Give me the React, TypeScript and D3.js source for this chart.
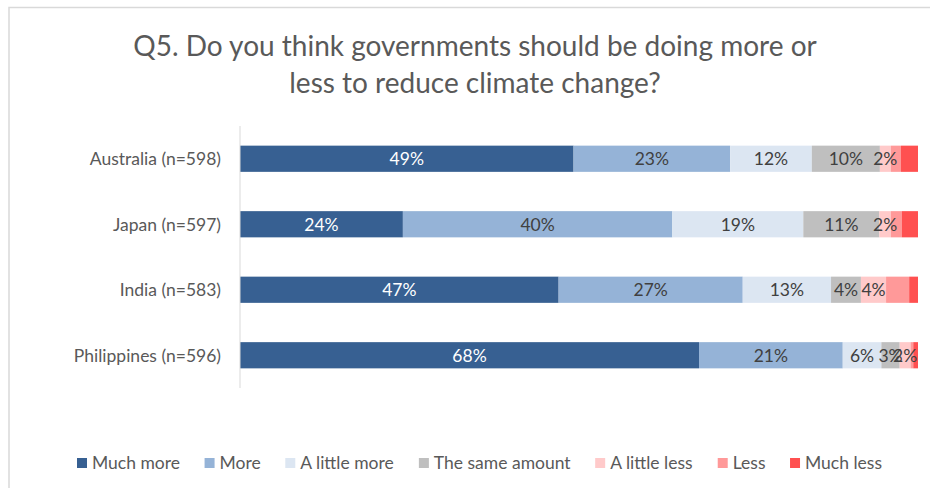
import React, { useMemo } from "react";
import * as d3 from "d3";

const countries = ["Australia (n=598)", "Japan (n=597)", "India (n=583)", "Philippines (n=596)"];
const seriesNames = ["Much more", "More", "A little more", "The same amount", "A little less", "Less", "Much less"];
const seriesColors = ["#376092", "#95b3d7", "#dce6f2", "#bfbfbf", "#ffcaca", "#ff9999", "#ff5050"];
const labelColors = ["#ffffff", "#404040", "#404040", "#404040", "#404040", "#404040", "#404040"];
// percentage per country, per series (same order as seriesNames)
const australia = [49, 23, 12, 10, 1.6, 1.5, 2.5];
const japan = [24, 39.7, 19.3, 11.2, 1.7, 1.6, 2.4];
const india = [46.9, 27.1, 13, 4.4, 3.7, 3.4, 1.3];
const philippines = [67.7, 21.2, 5.7, 2.7, 1.6, 0.4, 0.7];
const values = [australia, japan, india, philippines];
// which segments carry a data label
const showLabel = [true, true, true, true, true, false, false];

const FONT = "Lato, 'Open Sans', sans-serif";

function textWidth(t: string, size: number) {
  if (typeof document === "undefined") return t.length * size * 0.5;
  const c = document.createElement("canvas").getContext("2d")!;
  c.font = `${size}px ${FONT}`;
  return c.measureText(t).width;
}

export default function App() {
  const W = 930, H = 488;
  const x = d3.scaleLinear().domain([0, 100]).range([240, 918]);
  const y = d3.scaleBand().domain(countries).range([126, 388]).paddingInner(0.6).paddingOuter(0.3);

  const rows = values.map((vals, i) => {
    const total = d3.sum(vals);
    const norm = vals.map((v) => (v / total) * 100);
    const ends = d3.cumsum(norm);
    return norm.map((v, j) => ({ country: countries[i], j, v: vals[j], x0: ends[j] - v, x1: ends[j] }));
  });

  const legendSize = 17.5;
  const legend = useMemo(() => {
    const items = seriesNames.map((n) => ({ n, w: 10 + 5 + textWidth(n, legendSize) }));
    const left = 77, right = 882;
    const gap = (right - left - d3.sum(items, (d) => d.w)) / (items.length - 1);
    let cx = left;
    return items.map((d, i) => {
      const r = { ...d, x: cx, i };
      cx += d.w + gap;
      return r;
    });
  }, []);

  return (
    <svg width={W} height={H} style={{ position: "absolute", left: 0, top: 0, fontFamily: FONT }}>
      <rect x={0} y={0} width={W} height={H} fill="#ffffff" />
      <rect x={9} y={7.5} width={W + 20} height={H + 20} fill="none" stroke="#d9d9d9" strokeWidth={1.5} />
      <text x={475} y={56} textAnchor="middle" fontSize={28} fill="#595959">
        Q5. Do you think governments should be doing more or
      </text>
      <text x={475} y={93} textAnchor="middle" fontSize={28} fill="#595959">
        less to reduce climate change?
      </text>
      {rows.map((segs, i) => (
        <g key={countries[i]}>
          {segs.map((s) => (
            <rect
              key={s.j}
              x={x(s.x0)}
              y={y(s.country)!}
              width={x(s.x1) - x(s.x0)}
              height={y.bandwidth()}
              fill={seriesColors[s.j]}
            />
          ))}
          {segs.map((s) =>
            showLabel[s.j] ? (
              <text
                key={"l" + s.j}
                x={(x(s.x0) + x(s.x1)) / 2}
                y={y(s.country)! + y.bandwidth() / 2}
                dy="0.36em"
                textAnchor="middle"
                fontSize={17.5}
                fill={labelColors[s.j]}
              >
                {Math.round(s.v) + "%"}
              </text>
            ) : null
          )}
          <text
            x={221}
            y={y(countries[i])! + y.bandwidth() / 2}
            dy="0.36em"
            textAnchor="end"
            fontSize={17.5}
            fill="#595959"
          >
            {countries[i]}
          </text>
        </g>
      ))}
      <line x1={240} x2={240} y1={126} y2={388} stroke="#d9d9d9" strokeWidth={1} />
      {legend.map((d) => (
        <g key={d.n} transform={`translate(${d.x},0)`}>
          <rect x={0} y={458} width={10} height={10} fill={seriesColors[d.i]} />
          <text x={15} y={463} dy="0.36em" fontSize={legendSize} fill="#595959">
            {d.n}
          </text>
        </g>
      ))}
    </svg>
  );
}
